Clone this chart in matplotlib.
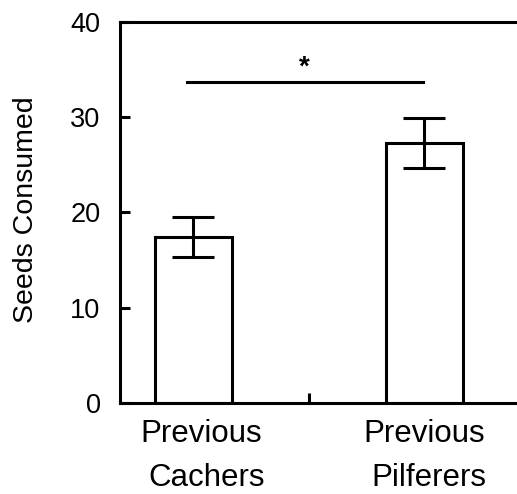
import numpy as np
import matplotlib.pyplot as plt

plt.rcParams['font.family'] = ['Liberation Sans', 'DejaVu Sans']

# data
groups = ['Previous\nCachers', 'Previous\nPilferers']
means = [17.4, 27.3]
errs = [2.1, 2.6]
sig_y = 33.7
yticks = [0, 10, 20, 30, 40]

x = np.arange(len(groups))

fig = plt.figure(figsize=(5.17, 4.94), dpi=100)
ax = fig.add_axes([0.2321, 0.1842, 0.8124, 0.7713])

ax.bar(x, means, width=0.333, color='white', edgecolor='black', linewidth=2.2)
ax.errorbar(x, means, yerr=errs, fmt='none', ecolor='black', elinewidth=2.2,
            capsize=14.8, capthick=2.2)

# significance bar
ax.plot([x[0] - 0.028, x[1] - 0.007], [sig_y, sig_y], color='black', lw=2.2)
ax.text((x[0] + x[1]) / 2 - 0.022, sig_y + 0.15, '*', ha='center', va='bottom',
        fontsize=20, fontweight='bold')

ax.set_xlim(-0.318, 1.5)
ax.set_ylim(0, 40)
ax.set_yticks(yticks)
ax.set_xticks([0.5])
ax.set_xticklabels([''])
ax.tick_params(axis='both', direction='in', length=7.5, width=2.2)
ax.tick_params(axis='y', labelsize=19.5, pad=14)
for s in ax.spines.values():
    s.set_linewidth(2.2)
ax.spines['right'].set_visible(False)

# category labels, two lines each
offsets = [0.035, 0.0]
for xi, lab, off in zip(x, groups, offsets):
    top, bottom = lab.split('\n')
    ax.text(xi + off, -0.102, top, transform=ax.get_xaxis_transform(),
            ha='center', va='baseline', fontsize=22.5)
    ax.text(xi + off + 0.02, -0.218, bottom, transform=ax.get_xaxis_transform(),
            ha='center', va='baseline', fontsize=22.5)

fig.text(0.05, 0.575, 'Seeds Consumed', rotation=90, ha='center', va='center',
         fontsize=20.5)

fig.savefig('out.png', dpi=100)
